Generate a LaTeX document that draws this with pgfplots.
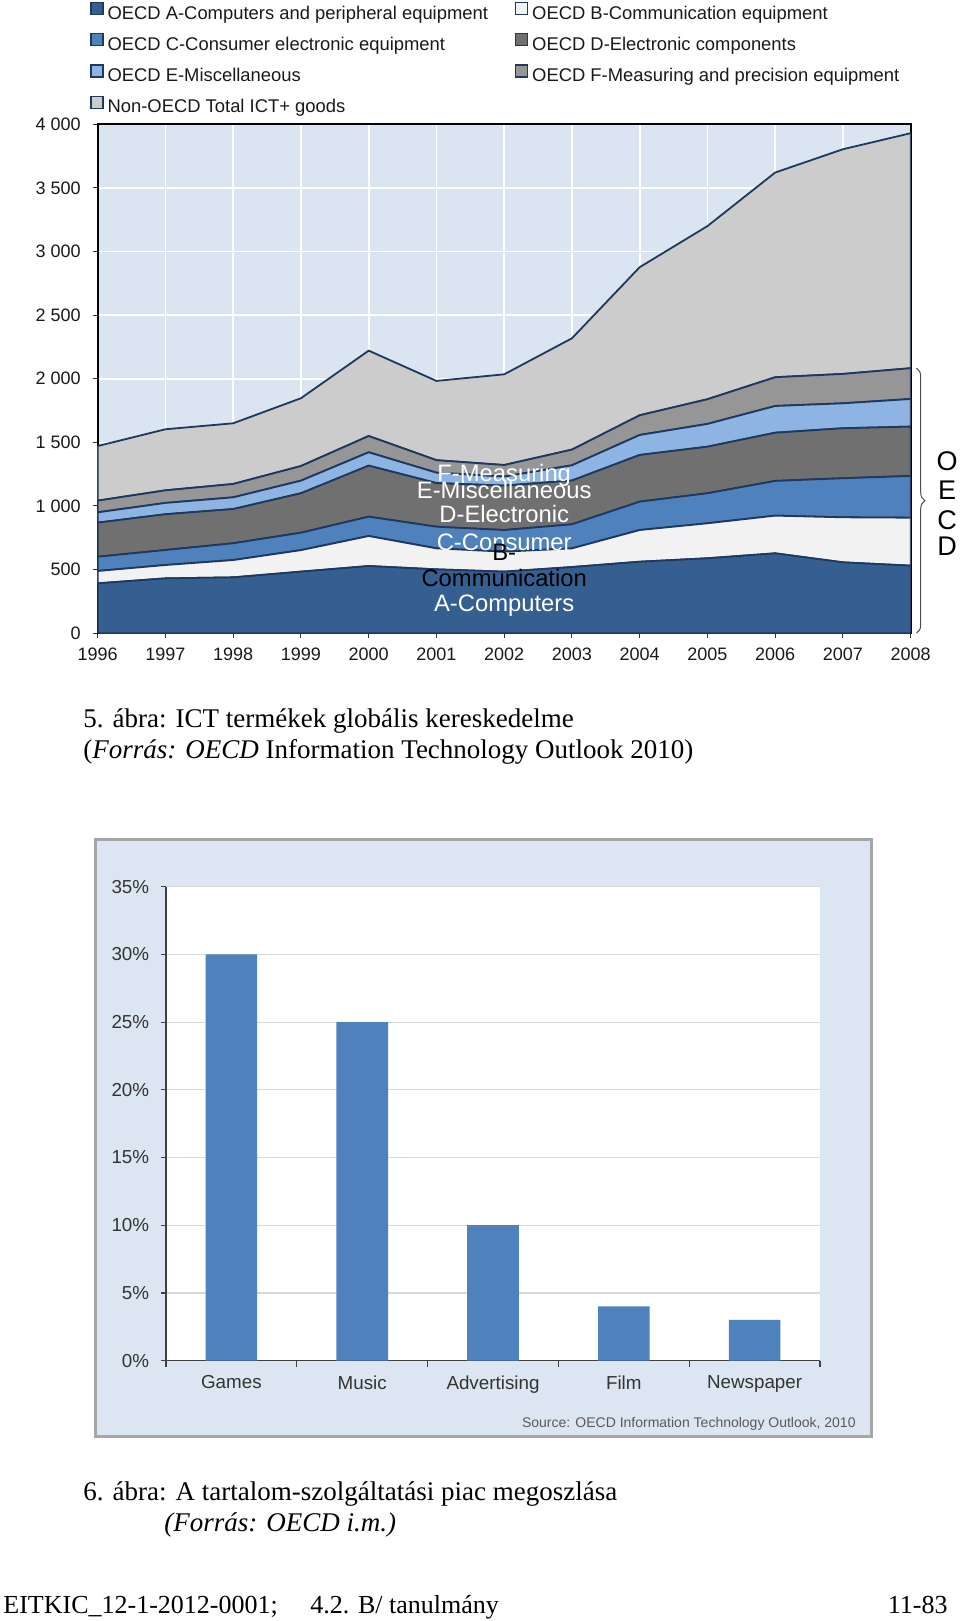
\documentclass[border=0pt]{standalone}
\usepackage{fontspec}
\setmainfont{Liberation Serif}
\newfontfamily\arial{Liberation Sans}
\usepackage{pgfplots}
\usepackage{pgfplotstable}
\pgfplotsset{compat=1.18}
\usetikzlibrary{decorations.pathreplacing}

\definecolor{colA}{RGB}{54,95,145}
\definecolor{colB}{RGB}{242,242,242}
\definecolor{colC}{RGB}{79,129,189}
\definecolor{colD}{RGB}{112,112,112}
\definecolor{colE}{RGB}{141,180,226}
\definecolor{colF}{RGB}{150,150,150}
\definecolor{colN}{RGB}{204,204,204}
\definecolor{edge}{RGB}{31,56,94}
\definecolor{bgblue}{RGB}{219,229,241}
\definecolor{framebg}{RGB}{220,230,242}
\definecolor{barblue}{RGB}{79,129,189}

% layer values (not cumulative), USD billion
\pgfplotstableread{
year A   B   C   D   E   F   N
1996 392 97  112 268 81  92  429
1997 431 105 118 281 89  99  480
1998 439 136 132 269 92  105 477
1999 484 169 137 310 99  115 533
2000 528 236 152 401 105 128 671
2001 502 165 170 343 82  98  623
2002 484 157 170 349 71  91  713
2003 520 147 189 344 120 123 875
2004 562 249 223 367 157 155 1164
2005 589 275 236 366 179 194 1361
2006 628 296 273 379 210 226 1609
2007 557 354 307 393 196 231 1766
2008 531 377 328 388 217 242 1847
}\ictdata

\tikzset{
  lbl/.style={font=\arial\fontsize{11.9}{12}\selectfont, inner sep=0pt},
  oecd/.style={font=\arial\fontsize{13.5}{13.5}\selectfont, inner sep=0pt},
  capt/.style={font=\fontsize{13.5}{16}\selectfont, inner sep=0pt, anchor=base west},
  foot/.style={font=\fontsize{13}{15}\selectfont, inner sep=0pt},
}

\begin{document}
\begin{tikzpicture}
\path[use as bounding box] (0,0) rectangle (480pt,-810.5pt);

% ---- chart 1: stacked areas
\begin{axis}[
  at={(48.85pt,-316.6pt)}, anchor=south west,
  scale only axis, width=406.5pt, height=254.45pt,
  xmin=1996, xmax=2008, ymin=0, ymax=4000,
  xtick={1996,1997,1998,1999,2000,2001,2002,2003,2004,2005,2006,2007,2008},
  xticklabels={1996,1997,1998,1999,2000,2001,2002,2003,2004,2005,2006,2007,2008},
  ytick={0,500,1000,1500,2000,2500,3000,3500,4000},
  yticklabels={0,500,1 000,1 500,2 000,2 500,3 000,3 500,4 000},
  xtick pos=bottom, ytick pos=left,
  grid=major, grid style={white, line width=0.8pt},
  axis background/.style={fill=bgblue},
  axis line style={black, line width=1pt},
  tick align=outside, major tick length=2.5pt, tick style={black!80, line width=0.5pt},
  tick label style={font=\arial\fontsize{9}{10}\selectfont, text=black!90},
  yticklabel style={xshift=-2.5pt},
  xticklabel style={yshift=-1.3pt},
  stack plots=y, no markers,
  legend columns=2, legend cell align=left,
  legend image code/.code={\draw[#1, line width=0.6pt] (0pt,0pt) rectangle (6pt,6pt);},
  legend style={at={(-0.0095,1.2412)}, anchor=north west, draw=none, fill=none,
    inner sep=0pt, font=\arial\fontsize{9.2}{10}\selectfont, text=black!90,
    nodes={inner sep=0pt, text height=6.7pt, text depth=1.9pt},
    row sep=5pt,
    /tikz/every odd column/.append style={column sep=2pt},
    /tikz/every even column/.append style={column sep=13.5pt}},
]
\addplot[fill=colA, draw=edge, line width=0.9pt] table[x=year, y=A] {\ictdata} \closedcycle;
\addplot[fill=colB, draw=edge, line width=0.9pt] table[x=year, y=B] {\ictdata} \closedcycle;
\addplot[fill=colC, draw=edge, line width=0.9pt] table[x=year, y=C] {\ictdata} \closedcycle;
\addplot[fill=colD, draw=edge, line width=0.9pt] table[x=year, y=D] {\ictdata} \closedcycle;
\addplot[fill=colE, draw=edge, line width=0.9pt] table[x=year, y=E] {\ictdata} \closedcycle;
\addplot[fill=colF, draw=edge, line width=0.9pt] table[x=year, y=F] {\ictdata} \closedcycle;
\addplot[fill=colN, draw=edge, line width=0.9pt] table[x=year, y=N] {\ictdata} \closedcycle;
\legend{OECD A-Computers and peripheral equipment, OECD B-Communication equipment,
  OECD C-Consumer electronic equipment, OECD D-Electronic components,
  OECD E-Miscellaneous, OECD F-Measuring and precision equipment,
  Non-OECD Total ICT+ goods}

\coordinate (lF) at (axis cs:2002,1238);
\coordinate (lE) at (axis cs:2002,1126);
\coordinate (lD) at (axis cs:2002,937);
\coordinate (lC) at (axis cs:2002,711);
\coordinate (lB) at (axis cs:2002,633);
\coordinate (lB2) at (axis cs:2002,432);
\coordinate (lA) at (axis cs:2002,214);
\coordinate (bt) at (axis cs:2008,2083);
\coordinate (bb) at (axis cs:2008,0);
\end{axis}

% in-chart labels (drawn over the areas, as in the source)
\node[lbl, text=white] at (lF) {F-Measuring};
\node[lbl, text=white] at (lE) {E-Miscellaneous};
\node[lbl, text=white] at (lD) {D-Electronic};
\node[lbl, text=white] at (lC) {C-Consumer};
\node[lbl, text=black] at (lB) {B-};
\node[lbl, text=black] at (lB2) {Communication};
\node[lbl, text=white] at (lA) {A-Computers};

\draw[decorate, decoration={brace, amplitude=4.2pt}, draw=black!70, line width=0.5pt]
  ([xshift=2.9pt]bt) -- ([xshift=2.9pt]bb);
\node[oecd] at (473.5pt,-230.85pt) {O};
\node[oecd] at (473.5pt,-245.35pt) {E};
\node[oecd] at (473.5pt,-260pt) {C};
\node[oecd] at (473.5pt,-273.35pt) {D};

\node[capt] at (41.5pt,-363.8pt) {5. ábra: ICT termékek globális kereskedelme};
\node[capt] at (41.5pt,-379pt) {(\textit{Forrás: OECD} Information Technology Outlook 2010)};
\node[capt] at (41.5pt,-750pt) {6. ábra: A tartalom-szolgáltatási piac megoszlása};
\node[capt] at (82pt,-765.5pt) {\textit{(Forrás: OECD i.m.)}};

% ---- chart 2: bars
\draw[draw=black!35, line width=1.5pt, fill=framebg] (47.5pt,-419.65pt) rectangle (435.85pt,-718.35pt);
\begin{axis}[
  at={(83pt,-680.3pt)}, anchor=south west,
  scale only axis, width=327pt, height=236.95pt,
  xmin=-0.5, xmax=4.5, ymin=0, ymax=35,
  ybar, bar width=25.8pt,
  xtick={0,1,2,3,4}, xticklabels={Games,Music,Advertising,Film,Newspaper},
  minor xtick={-0.5,0.5,1.5,2.5,3.5,4.5},
  ytick={0,5,10,15,20,25,30,35},
  yticklabels={0\%,5\%,10\%,15\%,20\%,25\%,30\%,35\%},
  axis lines*=left, axis line style={black!75, line width=0.7pt},
  ymajorgrids, grid style={black!15, line width=0.6pt},
  axis background/.style={fill=white},
  tick align=outside, major tick length=2.5pt, minor tick length=3pt,
  major x tick style={draw=none},
  minor x tick style={black!75, line width=0.6pt},
  y tick style={black!75, line width=0.6pt},
  tick label style={font=\arial\fontsize{9.4}{10}\selectfont, text=black!80},
  yticklabel style={xshift=-2.4pt},
  xticklabel style={yshift=-1.4pt},
]
\addplot[fill=barblue, draw=none] coordinates {(0,30) (1,25) (2,10) (3,4) (4,3)};
\end{axis}
\node[anchor=east, font=\arial\fontsize{7}{8}\selectfont, text=black!65, inner sep=0pt]
  at (428pt,-712pt) {Source: OECD Information Technology Outlook, 2010};

% ---- page footer
\node[foot, anchor=base west] at (1.5pt,-806.5pt) {EITKIC\_12-1-2012-0001;};
\node[foot, anchor=base west] at (155pt,-806.5pt) {4.2. B/ tanulmány};
\node[foot, anchor=base east] at (474pt,-806.5pt) {11-83};
\end{tikzpicture}
\end{document}
